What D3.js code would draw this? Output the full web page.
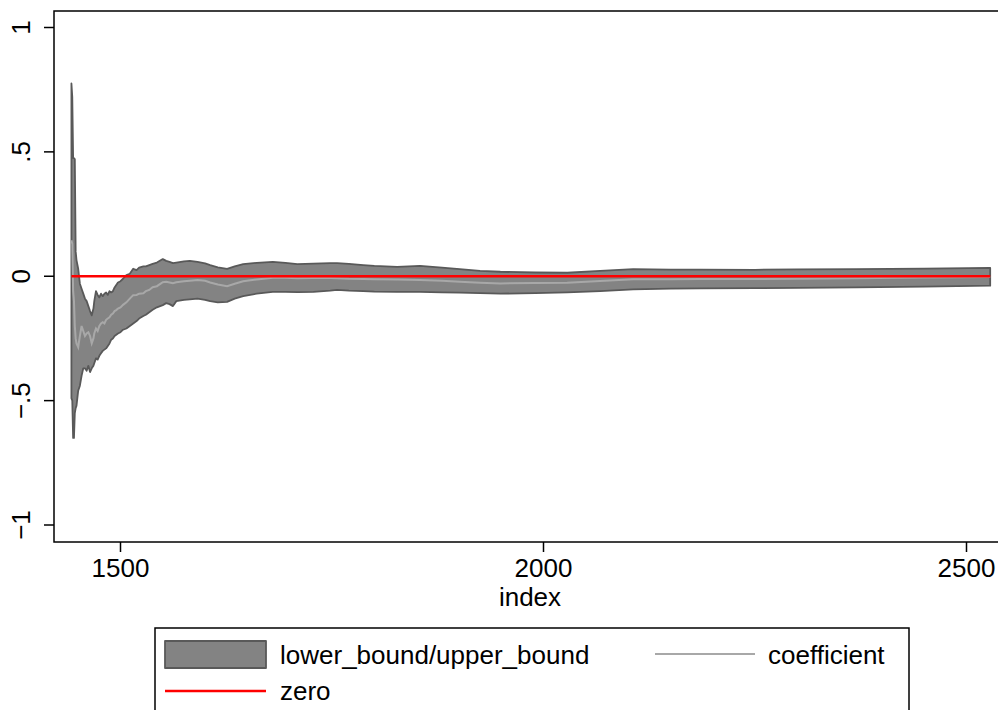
<!DOCTYPE html>
<meta charset="utf-8">
<style>
body { margin: 0; background: #fff; }
text { font-family: "Liberation Sans", Arial, sans-serif; font-size: 26px; fill: #000; }
.band { fill: #838383; stroke: #595959; stroke-width: 1.8px; stroke-linejoin: round; }
.coef { fill: none; stroke: #a8a8a8; stroke-width: 2px; }
.zero { fill: none; stroke: #ff0000; stroke-width: 2.6px; }
.frame { fill: none; stroke: #000; stroke-width: 1.5px; }
.tick { stroke: #000; stroke-width: 1.5px; }
</style>
<svg width="998" height="710"></svg>
<script src="https://d3js.org/d3.v7.min.js"></script>
<script>

var index = [1442,1443,1444,1445,1446,1447,1448,
  1450,1452,1454,1456,1458,1460,1462,1464,1466,
  1468,1469,
  1471,1473,1475,1477,1479,1481,1483,1485,1487,1489,1491,1493,1495,1497,
  1500,1503,1507,1511,1515,1519,1522,1527,1530,1534,1538,1543,
  1550,1554,1558,1562,1566,
  1575,1582,1591,1600,1606,1615,1626,1635,1645,
  1661,1680,1695,1709,1728,1748,1756,1770,1787,1800,
  1827,1854,1880,1901,1925,1949,1990,
  2028,2067,2106,2150,2185,2250,2300,2370,2450,2528];

var upperBound = [0.775,0.72,0.475,0.475,0.47,0.1,0.065,
  0.03,-0.03,-0.05,-0.07,-0.09,-0.1,-0.12,-0.14,-0.157,
  -0.13,-0.1,
  -0.06,-0.075,-0.085,-0.07,-0.08,-0.07,-0.065,-0.075,-0.06,-0.065,-0.06,-0.045,-0.035,-0.025,
  -0.02,-0.01,0.005,0.01,0.03,0.025,0.035,0.04,0.04,0.045,0.05,0.055,
  0.069,0.062,0.058,0.053,0.055,
  0.06,0.062,0.058,0.052,0.045,0.036,0.03,0.04,0.049,
  0.054,0.058,0.054,0.049,0.051,0.053,0.053,0.05,0.045,0.042,
  0.038,0.042,0.035,0.029,0.022,0.018,0.015,
  0.014,0.022,0.029,0.027,0.027,0.026,0.028,0.029,0.031,0.034];

var lowerBound = [-0.49,-0.5,-0.65,-0.65,-0.55,-0.53,-0.52,
  -0.46,-0.44,-0.4,-0.37,-0.37,-0.38,-0.36,-0.385,-0.37,
  -0.36,-0.35,
  -0.33,-0.335,-0.32,-0.31,-0.3,-0.295,-0.29,-0.28,-0.27,-0.255,-0.25,-0.24,-0.235,-0.23,
  -0.225,-0.215,-0.21,-0.2,-0.19,-0.18,-0.17,-0.16,-0.155,-0.145,-0.135,-0.125,
  -0.116,-0.108,-0.112,-0.12,-0.1,
  -0.095,-0.093,-0.09,-0.095,-0.1,-0.105,-0.103,-0.09,-0.08,
  -0.07,-0.063,-0.063,-0.064,-0.063,-0.058,-0.055,-0.058,-0.06,-0.062,
  -0.063,-0.063,-0.065,-0.066,-0.068,-0.07,-0.068,
  -0.065,-0.06,-0.053,-0.05,-0.049,-0.048,-0.047,-0.045,-0.042,-0.038];

var coefficient = [0.145,0.13,-0.06,-0.1,-0.2,-0.25,-0.27,
  -0.285,-0.24,-0.2,-0.22,-0.24,-0.23,-0.225,-0.24,-0.27,
  -0.25,-0.23,
  -0.21,-0.22,-0.2,-0.19,-0.185,-0.19,-0.175,-0.17,-0.165,-0.155,-0.15,-0.14,-0.136,-0.13,
  -0.125,-0.115,-0.105,-0.09,-0.076,-0.075,-0.07,-0.068,-0.06,-0.055,-0.044,-0.04,
  -0.024,-0.022,-0.025,-0.028,-0.024,
  -0.02,-0.018,-0.015,-0.018,-0.025,-0.033,-0.04,-0.03,-0.02,
  -0.013,-0.006,-0.006,-0.008,-0.007,-0.007,-0.008,-0.01,-0.011,-0.012,
  -0.013,-0.015,-0.018,-0.022,-0.026,-0.029,-0.027,
  -0.026,-0.019,-0.012,-0.012,-0.011,-0.011,-0.01,-0.008,-0.005,-0.003];

var xTicks = [1500, 2000, 2500];
var yTicks = [-1, -0.5, 0, 0.5, 1];
var yLabels = ["\u22121", "\u2212.5", "0", ".5", "1"];
var legendNames = ["lower_bound/upper_bound", "coefficient", "zero"];

var svg = d3.select("svg");

// plot region (right edge runs off the picture, as in the original)
var plotL = 54, plotT = 11, plotR = 1006, plotB = 542;

var x = d3.scaleLinear().domain([1500, 2500]).range([120.5, 966.5]);
var y = d3.scaleLinear().domain([-1, 1]).range([525, 27.5]);

var rows = index.map(function(d, i) {
  return { i: d, lo: lowerBound[i], hi: upperBound[i], b: coefficient[i] };
});

var area = d3.area()
    .x(function(d) { return x(d.i); })
    .y0(function(d) { return y(d.lo); })
    .y1(function(d) { return y(d.hi); });

var line = d3.line()
    .x(function(d) { return x(d.i); })
    .y(function(d) { return y(d.b); });

svg.append("path").datum(rows).attr("class", "band").attr("d", area);
svg.append("path").datum(rows).attr("class", "coef").attr("d", line);
svg.append("path").datum(rows).attr("class", "zero")
    .attr("d", d3.line().x(function(d) { return x(d.i); }).y(y(0)));

svg.append("rect").attr("class", "frame")
    .attr("x", plotL).attr("y", plotT)
    .attr("width", plotR - plotL).attr("height", plotB - plotT);

// y axis
yTicks.forEach(function(t, k) {
  svg.append("line").attr("class", "tick")
      .attr("x1", plotL - 10).attr("x2", plotL)
      .attr("y1", y(t)).attr("y2", y(t));
  svg.append("text")
      .attr("transform", "translate(30," + y(t) + ") rotate(-90)")
      .attr("text-anchor", "middle")
      .text(yLabels[k]);
});

// x axis
xTicks.forEach(function(t) {
  svg.append("line").attr("class", "tick")
      .attr("x1", x(t)).attr("x2", x(t))
      .attr("y1", plotB).attr("y2", plotB + 10);
  svg.append("text")
      .attr("x", x(t)).attr("y", 577)
      .attr("text-anchor", "middle")
      .text(t);
});

svg.append("text")
    .attr("x", (plotL + plotR) / 2).attr("y", 606)
    .attr("text-anchor", "middle")
    .text("index");

// legend
var lg = svg.append("g");
lg.append("rect").attr("class", "frame")
    .attr("x", 155).attr("y", 628).attr("width", 754).attr("height", 120);

lg.append("rect").attr("class", "band")
    .attr("x", 165).attr("y", 641).attr("width", 101).attr("height", 27);
lg.append("text").attr("x", 280).attr("y", 664).text(legendNames[0]);

lg.append("line").attr("class", "coef")
    .attr("x1", 655).attr("x2", 755).attr("y1", 654).attr("y2", 654);
lg.append("text").attr("x", 768).attr("y", 664).text(legendNames[1]);

lg.append("line").attr("class", "zero")
    .attr("x1", 165).attr("x2", 266).attr("y1", 691).attr("y2", 691);
lg.append("text").attr("x", 280).attr("y", 700).text(legendNames[2]);

</script>
